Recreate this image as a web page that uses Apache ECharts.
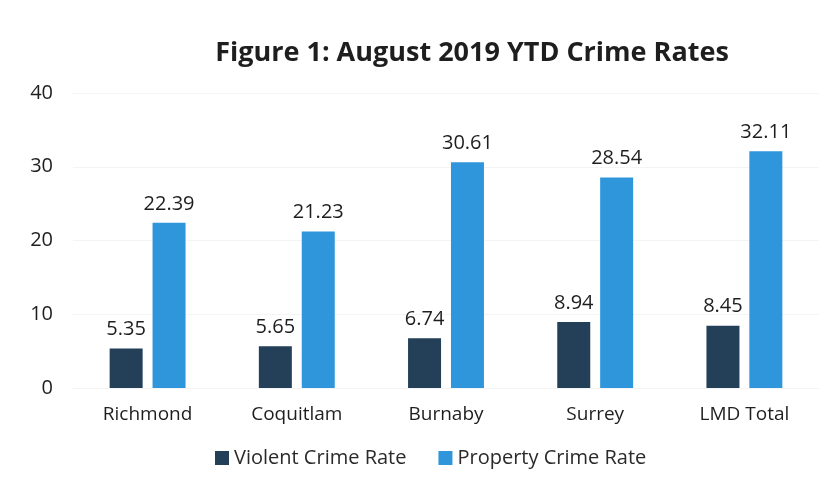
<!DOCTYPE html>
<html><head><meta charset="utf-8">
<script src="https://cdn.jsdelivr.net/npm/echarts@6/dist/echarts.min.js"></script>
<style>html,body{margin:0;padding:0;background:#fff}#c{width:839px;height:486px}</style>
</head><body><div id="c"></div>
<script>
const categories = ['Richmond','Coquitlam','Burnaby','Surrey','LMD Total'];
const violent = [5.35, 5.65, 6.74, 8.94, 8.45];
const property = [22.39, 21.23, 30.61, 28.54, 32.11];
const yTicks = [0, 10, 20, 30, 40];
const ff = 'Open Sans';
const chart = echarts.init(document.getElementById('c'));
chart.setOption({
  animation: false,
  title: {text: 'Figure 1: August 2019 YTD Crime Rates', left: 467, textAlign: 'center', top: 35,
    textStyle: {fontFamily: ff, fontSize: 27, fontWeight: 'bold', color: '#1e1e1e'}},
  legend: {bottom: 13, left: 210, itemWidth: 14, itemHeight: 14, itemGap: 32, icon: 'rect',
    textStyle: {fontFamily: ff, fontSize: 20, color: '#2a2a2a'}},
  grid: {left: 73, right: 20, top: 93, bottom: 98},
  xAxis: {type: 'category', data: categories,
    axisLine: {show: false}, axisTick: {show: false},
    axisLabel: {fontFamily: ff, fontSize: 19, color: '#1e1e1e', margin: 17}},
  yAxis: {type: 'value', min: yTicks[0], max: yTicks[yTicks.length-1], interval: 10,
    axisLabel: {fontFamily: ff, fontSize: 20, color: '#1e1e1e', margin: 20},
    splitLine: {lineStyle: {color: '#f4f4f4'}}},
  series: [
    {name: 'Violent Crime Rate', type: 'bar', data: violent, barWidth: 33, barGap: '30%',
     itemStyle: {color: '#243F58'},
     label: {show: true, position: 'top', distance: 9, fontFamily: ff, fontSize: 20, color: '#1e1e1e'}},
    {name: 'Property Crime Rate', type: 'bar', data: property, barWidth: 33,
     itemStyle: {color: '#2F96DB'},
     label: {show: true, position: 'top', distance: 9, fontFamily: ff, fontSize: 20, color: '#1e1e1e'}}
  ]
});
</script></body></html>
